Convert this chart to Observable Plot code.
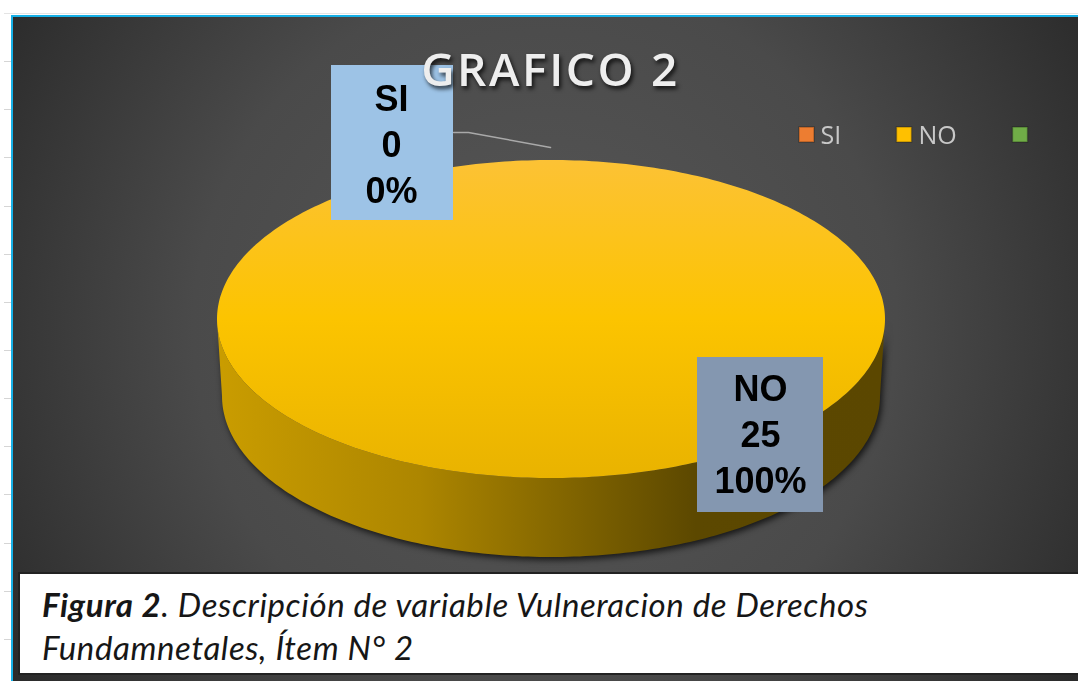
<!DOCTYPE html>
<html>
<head>
<meta charset="utf-8">
<script src="https://cdn.jsdelivr.net/npm/d3@7"></script>
<script src="https://cdn.jsdelivr.net/npm/@observablehq/plot@0.6"></script>
<style>
  html, body { margin: 0; padding: 0; background: #fff; overflow: hidden; }
  #wrap { position: relative; width: 1078px; height: 681px; }
  #wrap svg { display: block; }
  .titulo text { letter-spacing: 2.6px; filter: drop-shadow(2px 3px 2px rgba(0,0,0,.75)); }
  .pared { filter: drop-shadow(2px 3px 3px rgba(0,0,0,.7)); }
  .etiqueta text, .leyenda text { filter: blur(.35px); }
  #caption {
    position: absolute; left: 18px; top: 572px; width: 1060px; height: 103px; box-sizing: border-box;
    background: #fff; border: 2px solid #222; border-right: none;
    padding: 9px 0 0 22px; font: italic 33px/43px Lato, sans-serif; color: #161616; letter-spacing: .6px;
  }
</style>
</head>
<body>
<div id="wrap"></div>
<script>
// Data
const categories = ["SI", "NO"];
const counts = [0, 25];
const percents = ["0%", "100%"];
const legendLabels = ["SI", "NO", ""];
const legendColors = ["#ed7d31", "#ffc000", "#70ad47"];
const titleText = "GRAFICO 2";
const rulerTicks = [61, 109, 157, 206, 254, 302, 350, 398, 446, 494, 543, 591, 639];

// Layout in page pixels
const W = 1078, H = 681;
const top3d = {cx: 551, cy: 319, rx: 334, ry: 159};
const bot3d = {cx: 551, cy: 396, rx: 329, ry: 161};
const labelBoxes = [
  {x1: 331, x2: 453, y1: 65, y2: 220, fill: "#9dc3e6", cx: 391, lines: [99, 145, 191]},
  {x1: 697, x2: 823, y1: 357, y2: 512, fill: "#8497b0", cx: 760, lines: [389, 435, 481]}
];
const legendLayout = [{sx: 806, tx: 820}, {sx: 903.5, tx: 918}, {sx: 1019.5, tx: 1040}];

// Slices from the values
const arcs = d3.pie().sort(null)(counts);
const angles = (a0, a1, n) => d3.range(n + 1).map(i => a0 + (a1 - a0) * i / n);
const px = (e, a) => e.cx + e.rx * Math.sin(a);
const py = (e, a) => e.cy - e.ry * Math.cos(a);

const slice = arcs.find(d => d.endAngle > d.startAngle);
const face = angles(slice.startAngle, slice.endAngle, 360).map(a => ({
  x1: px(top3d, a), y1: py(top3d, a), x2: top3d.cx, y2: top3d.cy
}));
const wall = angles(Math.PI / 2, 3 * Math.PI / 2, 180).map(a => ({
  x1: px(top3d, a), y1: py(top3d, a), x2: px(bot3d, a), y2: py(bot3d, a)
}));

const boxes = labelBoxes.map((b, i) => ({...b, name: categories[i], count: counts[i], pct: percents[i]}));
const labelLines = boxes.flatMap(b => [b.name, String(b.count), b.pct].map((t, i) => ({t, x: b.cx, y: b.lines[i]})));
const legend = legendLabels.map((t, i) => ({t, c: legendColors[i], ...legendLayout[i]}));
const leader = [{x: 453, y: 132}, {x: 468, y: 132}, {x: 550, y: 147}];

const defs = () => d3.create("svg:defs").html(`
  <radialGradient id="bg" gradientUnits="userSpaceOnUse" cx="545" cy="330" r="640">
    <stop offset="0" stop-color="#575757"/><stop offset=".55" stop-color="#4a4a4a"/><stop offset="1" stop-color="#2a2a2a"/>
  </radialGradient>
  <linearGradient id="topFace" gradientUnits="userSpaceOnUse" x1="0" y1="160" x2="0" y2="478">
    <stop offset="0" stop-color="#fcc235"/><stop offset=".5" stop-color="#fcc400"/><stop offset="1" stop-color="#e9b300"/>
  </linearGradient>
  <linearGradient id="side" gradientUnits="userSpaceOnUse" x1="222" y1="0" x2="880" y2="0">
    <stop offset="0" stop-color="#c99c00"/><stop offset=".3" stop-color="#ad8600"/><stop offset=".72" stop-color="#5c4800"/><stop offset="1" stop-color="#5b4700"/>
  </linearGradient>`).node();

const chart = Plot.plot({
  width: W, height: H,
  margin: 0,
  x: {domain: [0, W], range: [0, W], axis: null},
  y: {domain: [H, 0], range: [H, 0], axis: null},
  style: {background: "#fff", overflow: "hidden"},
  marks: [
    defs,
    Plot.ruleY(rulerTicks, {x1: 4, x2: 11, stroke: "#d5d5d5"}),
    Plot.ruleY([13], {x1: 4, x2: W, stroke: "#e4e4e4"}),
    Plot.rect([0], {x1: 12, x2: W + 4, y1: 16, y2: H + 4, fill: "url(#bg)", stroke: "#17b0e6", strokeWidth: 2}),
    Plot.area(wall, {x1: "x1", y1: "y1", x2: "x2", y2: "y2", fill: "url(#side)", className: "pared"}),
    Plot.area(face, {x1: "x1", y1: "y1", x2: "x2", y2: "y2", fill: "url(#topFace)"}),
    Plot.line(leader, {x: "x", y: "y", stroke: "#a9a9a9", strokeWidth: 1.5}),
    Plot.rect(boxes, {x1: "x1", x2: "x2", y1: "y1", y2: "y2", fill: "fill"}),
    Plot.text([titleText], {text: d => d, x: 550, y: 71, fontSize: 46, fontWeight: 600, fontFamily: "'Open Sans', sans-serif", fill: "#eeeeee", className: "titulo"}),
    Plot.text(labelLines, {x: "x", y: "y", text: "t", fontSize: 36, fontWeight: 700, fontFamily: "'Liberation Sans', sans-serif", fill: "#000", className: "etiqueta"}),
    Plot.dot(legend, {x: "sx", y: 134, symbol: "square", r: 8.5, fill: "c", stroke: "#00000040"}),
    Plot.text(legend, {x: "tx", y: 135, text: "t", textAnchor: "start", fontSize: 25, fontFamily: "'Open Sans', sans-serif", fill: "#c8c8c8", className: "leyenda"})
  ]
});
document.getElementById("wrap").appendChild(chart);

const cap = document.createElement("div");
cap.id = "caption";
cap.innerHTML = "<b>Figura 2</b>. Descripción de variable Vulneracion de Derechos<br>Fundamnetales, Ítem N° 2";
document.getElementById("wrap").appendChild(cap);
</script>
</body>
</html>
